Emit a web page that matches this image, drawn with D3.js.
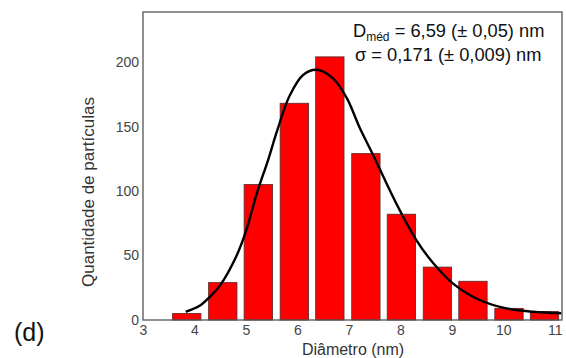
<!DOCTYPE html>
<html>
<head>
<meta charset="utf-8">
<script src="https://cdn.jsdelivr.net/npm/d3@7"></script>
<style>
  body { margin: 0; background: #fff; }
  svg { display: block; }
  text { font-family: "Liberation Sans", Arial, sans-serif; }
</style>
</head>
<body>
<svg id="chart" width="566" height="358"></svg>
<script>
// Histogram bins (bin centres, nm) and counts
const binCenters = [3.85, 4.55, 5.24, 5.94, 6.63, 7.33, 8.02, 8.72, 9.41, 10.11, 10.80];
const counts = [5, 29, 105, 168, 204, 129, 82, 41, 30, 9, 6.5];
const binWidth = 0.55;

// Fitted curve, points
const curveX = [3.83, 4.10, 4.30, 4.50, 4.82, 5.01, 5.21, 5.43, 5.60, 5.85, 6.11, 6.38, 6.70, 6.96, 7.21, 7.47, 7.73, 7.99, 8.31, 8.64, 9.03, 9.54, 10.06, 10.58, 11.13];
const curveY = [6.4, 11, 18, 27, 50, 70, 98, 124, 146, 174, 190, 194, 187, 172, 149, 128, 106, 85, 62, 44, 28, 15.5, 9, 6.4, 5.2];

const xTicks = [3, 4, 5, 6, 7, 8, 9, 10, 11];
const yTicks = [0, 50, 100, 150, 200];

const xLabel = "Diâmetro (nm)";
const yLabel = "Quantidade de partículas";
const panelLabel = "(d)";

const svg = d3.select("#chart");
const mLeft = 143, mRight = 562, mTop = 12, mBottom = 320;

const x = d3.scaleLinear().domain([3, 11.14]).range([mLeft, mRight]);
const y = d3.scaleLinear().domain([0, 238.8]).range([mBottom, mTop]);

// Bars
svg.append("g").selectAll("rect")
  .data(binCenters.map((c, i) => ({c, v: counts[i]})))
  .join("rect")
  .attr("x", d => x(d.c - binWidth / 2))
  .attr("width", d => x(d.c + binWidth / 2) - x(d.c - binWidth / 2))
  .attr("y", d => y(d.v))
  .attr("height", d => y(0) - y(d.v))
  .attr("fill", "#ff0000")
  .attr("stroke", "#6a2a2a")
  .attr("stroke-width", 0.9);

// Curve
const line = d3.line()
  .x(d => x(d[0]))
  .y(d => y(d[1]))
  .curve(d3.curveCatmullRom.alpha(0.5));
svg.append("path")
  .datum(curveX.map((v, i) => [v, curveY[i]]))
  .attr("d", line)
  .attr("fill", "none")
  .attr("stroke", "#000")
  .attr("stroke-width", 2.4);

// Frame
svg.append("rect")
  .attr("x", mLeft).attr("y", mTop)
  .attr("width", mRight - mLeft).attr("height", mBottom - mTop)
  .attr("fill", "none")
  .attr("stroke", "#555")
  .attr("stroke-width", 1.3);

// Axes
const xAxis = svg.append("g")
  .attr("transform", `translate(0,${mBottom})`)
  .call(d3.axisBottom(x).tickValues(xTicks).tickSize(0).tickPadding(5).tickFormat(d3.format("d")));
xAxis.select(".domain").remove();
xAxis.selectAll("text").attr("font-size", 14).attr("fill", "#444")
  .attr("font-family", "Liberation Sans, Arial, sans-serif");

const yAxis = svg.append("g")
  .attr("transform", `translate(${mLeft},0)`)
  .call(d3.axisLeft(y).tickValues(yTicks).tickSize(0).tickPadding(4).tickFormat(d3.format("d")));
yAxis.select(".domain").remove();
yAxis.selectAll("text").attr("font-size", 14).attr("fill", "#444")
  .attr("font-family", "Liberation Sans, Arial, sans-serif");

// Axis titles
svg.append("text")
  .attr("x", 353)
  .attr("y", 355)
  .attr("text-anchor", "middle")
  .attr("font-size", 16)
  .attr("fill", "#333")
  .text(xLabel);

svg.append("text")
  .attr("transform", `translate(94,192) rotate(-90)`)
  .attr("text-anchor", "middle")
  .attr("font-size", 17)
  .attr("fill", "#333")
  .text(yLabel);

// Panel label
svg.append("text")
  .attr("x", 14).attr("y", 341)
  .attr("font-size", 25)
  .attr("fill", "#111")
  .text(panelLabel);

// Annotation
const ann1 = svg.append("text").attr("x", 353).attr("y", 37)
  .attr("font-size", 18.3).attr("fill", "#111");
ann1.append("tspan").text("D");
ann1.append("tspan").attr("font-size", 12).attr("dy", 4).text("méd");
ann1.append("tspan").attr("dy", -4).text(" = 6,59 (± 0,05) nm");

svg.append("text").attr("x", 355).attr("y", 61)
  .attr("font-size", 18.3).attr("fill", "#111")
  .text("σ = 0,171 (± 0,009) nm");
</script>
</body>
</html>
